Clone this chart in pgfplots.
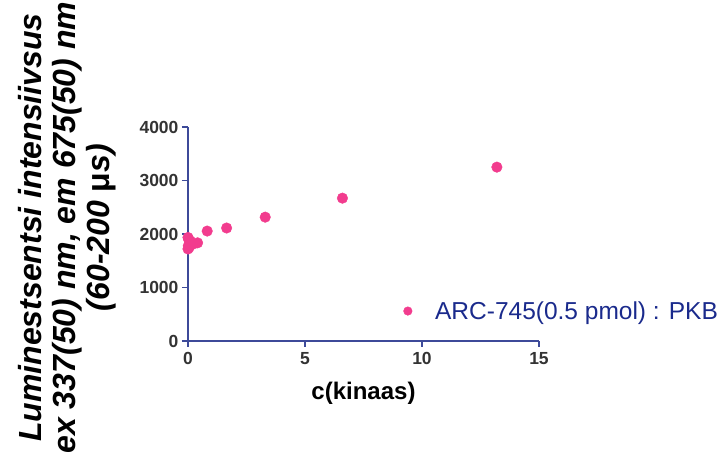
\documentclass[border=0pt]{standalone}
\usepackage{pgfplots}
\pgfplotsset{compat=1.18}
\usepackage{fontspec}
\setmainfont{Liberation Sans}
\definecolor{axisblue}{HTML}{3D4A99}
\definecolor{ptpink}{HTML}{F23C8E}
\definecolor{legnavy}{HTML}{1A2A8C}
\definecolor{ticktxt}{HTML}{333333}
\begin{document}
\begin{tikzpicture}[x=1pt,y=1pt]
\useasboundingbox (-188,-119) rectangle (538,341);
\begin{axis}[
  at={(0,0)}, anchor=origin,
  scale only axis, width=351pt, height=214pt,
  xmin=0, xmax=15, ymin=0, ymax=4000,
  axis x line*=bottom, axis y line*=left,
  axis line style={axisblue, line width=1.6pt, -},
  xtick={0,5,10,15}, ytick={0,1000,2000,3000,4000},
  tick style={axisblue, line width=1.4pt},
  tick align=outside, major tick length=6pt,
  /pgf/number format/assume math mode=true,
  /pgf/number format/set thousands separator={},
  ticklabel style={font=\fontsize{17.5}{19}\selectfont\bfseries, text=ticktxt},
  xticklabel style={yshift=-2pt},
  xlabel={c(kinaas)},
  xlabel style={font=\fontsize{24}{26}\selectfont\bfseries, at={(axis description cs:0.5,-0.245)}, anchor=center},
  ylabel={Luminestsentsi intensiivsus\\ex 337(50) nm, em 675(50) nm\\(60-200 {\upshape μ}s)},
  ylabel style={font=\fontsize{32}{34}\selectfont\bfseries\itshape, align=center, at={(axis description cs:-0.345,0.53)}, anchor=center},
  legend style={draw=none, fill=none, at={(axis description cs:0.605,0.14)}, anchor=west, font=\fontsize{24.5}{26}\selectfont, text=legnavy, legend cell align=left},
  legend image post style={mark size=4.3pt},
  clip=false,
]
\addplot[only marks, mark=*, mark size=5.3pt, color=ptpink] coordinates {
 (13.2,3250) (6.6,2670) (3.3,2315) (1.65,2112) (0.82,2055)
 (0.41,1835) (0.21,1810) (0.1,1870) (0.05,1750) (0.026,1900)
 (0.013,1780) (0,1720) (0,1935)
};
\addlegendentry{\hspace*{21pt}ARC-745(0.5 pmol) : PKB}
\end{axis}
\end{tikzpicture}
\end{document}
